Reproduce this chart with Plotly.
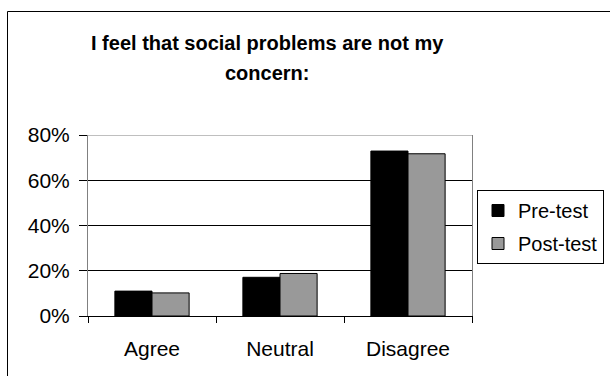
import plotly.graph_objects as go

categories = ["Agree", "Neutral", "Disagree"]
pre_test = [11.0, 17.1, 72.9]
post_test = [10.2, 18.8, 71.7]
y_ticks = [0, 20, 40, 60, 80]
y_tick_labels = ["0%", "20%", "40%", "60%", "80%"]
title_lines = ["I feel that social problems are not my", "concern:"]

W, H = 610, 376
L, R, T, B = 88, 138, 135, 60
plot_w = W - L - R
plot_h = H - T - B


def px_x(px):
    return (px - L) / plot_w


def px_y(py):
    return (H - B - py) / plot_h


font = "Arial, Liberation Sans, sans-serif"

fig = go.Figure()
fig.add_trace(go.Bar(
    x=categories, y=pre_test, name="Pre-test", legendgroup="a",
    marker=dict(color="#000000", line=dict(color="#000000", width=1)),
))
fig.add_trace(go.Bar(
    x=categories, y=post_test, name="Post-test", legendgroup="b",
    marker=dict(color="#999999", line=dict(color="#000000", width=1)),
))

fig.update_layout(
    width=W, height=H,
    margin=dict(l=L, r=R, t=T, b=B, autoexpand=False),
    paper_bgcolor="white", plot_bgcolor="white",
    font=dict(family=font, size=21, color="black"),
    barmode="group", bargap=0.42, bargroupgap=0,
    showlegend=True,
    legend=dict(
        x=px_x(477), y=px_y(190), xanchor="left", yanchor="top",
        bordercolor="black", borderwidth=1, bgcolor="white",
        font=dict(size=20), tracegroupgap=4, traceorder="grouped",
        itemwidth=30,
    ),
    xaxis=dict(
        type="category", tickson="boundaries", ticks="outside", ticklen=6,
        tickcolor="black", showline=True, linecolor="black", linewidth=1,
        showgrid=False, zeroline=False, ticklabelstandoff=14,
    ),
    yaxis=dict(
        range=[0, 80], tickvals=y_ticks, ticktext=y_tick_labels,
        ticks="outside", ticklen=8, tickcolor="black", showline=True,
        linecolor="#808080", mirror=True, showgrid=True, gridcolor="black",
        gridwidth=1, zeroline=False, ticklabelstandoff=5,
    ),
)

# light top edge of the plotting area
fig.add_shape(type="line", xref="paper", yref="y", x0=0, x1=1, y0=80, y1=80,
              line=dict(color="#808080", width=1), layer="above")

# outer chart frame
fig.add_shape(type="rect", xref="paper", yref="paper",
              x0=px_x(7.5), x1=px_x(640), y0=px_y(400), y1=px_y(11.5),
              line=dict(color="black", width=1), layer="below")

# two-line bold title
for text, cy in zip(title_lines, [43, 73]):
    fig.add_annotation(text=f"<b>{text}</b>", xref="paper", yref="paper",
                       x=px_x(267), y=px_y(cy), xanchor="center", yanchor="middle",
                       showarrow=False, font=dict(size=20, family=font))

fig.write_html("out.html")
